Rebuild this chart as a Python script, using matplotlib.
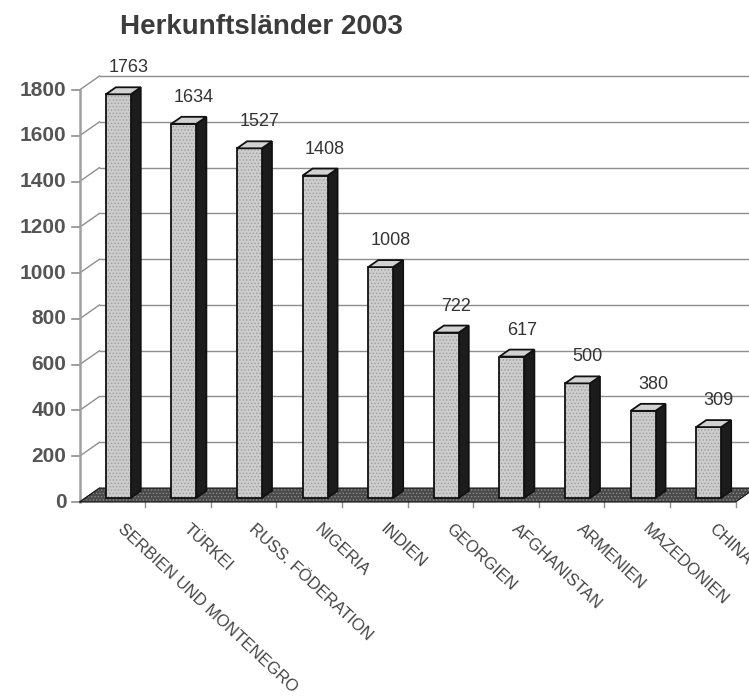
import matplotlib
matplotlib.use('Agg')
import matplotlib.pyplot as plt
from matplotlib.patches import Polygon

# Asylum applications by country of origin, 2003
countries = ['SERBIEN UND MONTENEGRO', 'TÜRKEI', 'RUSS. FÖDERATION', 'NIGERIA',
             'INDIEN', 'GEORGIEN', 'AFGHANISTAN', 'ARMENIEN', 'MAZEDONIEN', 'CHINA']
counts = [1763, 1634, 1527, 1408, 1008, 722, 617, 500, 380, 309]
yticks = [0, 200, 400, 600, 800, 1000, 1200, 1400, 1600, 1800]
title = 'Herkunftsländer 2003'

plt.rcParams['font.family'] = ['Liberation Sans', 'DejaVu Sans']
plt.rcParams['hatch.linewidth'] = 0.6

# fake 3d: depth shift of the back wall, in category / value units
DX, DY = 0.305, 61.0
D0, D1 = 0.3, 0.8          # front and back depth of the bars
BAR_X, BAR_W = 0.31, 0.38
GRID = '#8e8e8e'


def proj(x, v, d):
    return (x + d * DX, v + d * DY)


def face(ax, pts, fc, tex=None, z=3, lw=1.3):
    if tex is not None:
        ax.add_patch(Polygon(pts, closed=True, facecolor=fc, edgecolor=tex,
                             lw=0, hatch='.....', zorder=z, clip_on=False))
        fc = 'none'
    ax.add_patch(Polygon(pts, closed=True, facecolor=fc, edgecolor='#111111',
                         lw=lw, zorder=z + 0.1, clip_on=False))


fig = plt.figure(figsize=(7.49, 6.99), dpi=100)
ax = fig.add_axes([79.5 / 749, (699 - 502) / 699, 656 / 749, 412 / 699])
n = len(countries)
ax.set_xlim(0, n)
ax.set_ylim(0, yticks[-1])
ax.axis('off')

# back wall grid and side wall diagonals
for v in yticks:
    x0, y0 = proj(0, v, 1)
    x1, y1 = proj(n, v, 1)
    if v > 0:
        ax.plot([x0, x1 + 0.3], [y0, y1], color=GRID, lw=1.0, zorder=1, clip_on=False)
    ax.plot([0, x0], [v, y0], color=GRID, lw=1.0, zorder=1, clip_on=False)
    ax.plot([-0.11, 0], [v, v], color=GRID, lw=1.2, zorder=1, clip_on=False)
    ax.text(-0.2, v, str(v), ha='right', va='center', fontsize=15,
            fontweight='bold', color='#555555')

# front axis line
ax.plot([0, 0], [0, yticks[-1]], color='#a0a0a0', lw=1.8, zorder=1, clip_on=False)

# floor
floor = [proj(0, 0, 0), proj(n, 0, 0), proj(n, 0, 1), proj(0, 0, 1)]
face(ax, floor, '#4a4a4a', tex='#8c8c8c', z=2, lw=0.8)
for i in range(1, n + 1):
    ax.plot([i, i], [0, -24], color=GRID, lw=1.0, zorder=1, clip_on=False)

# bars
for i, v in enumerate(counts):
    xl = i + BAR_X
    xr = xl + BAR_W
    front = [proj(xl, 0, D0), proj(xr, 0, D0), proj(xr, v, D0), proj(xl, v, D0)]
    side = [proj(xr, 0, D0), proj(xr, 0, D1), proj(xr, v, D1), proj(xr, v, D0)]
    top = [proj(xl, v, D0), proj(xr, v, D0), proj(xr, v, D1), proj(xl, v, D1)]
    face(ax, side, '#1c1c1c', z=3)
    face(ax, front, '#cdcdcd', tex='#9e9e9e', z=4)
    face(ax, top, '#d2d2d2', z=5)
    lx, ly = proj(xl + BAR_W / 2, v, D1)
    ax.text(lx, ly + 48, str(v), ha='center', va='bottom', fontsize=13,
            color='#333333', zorder=6)

# category labels
for i, name in enumerate(countries):
    ax.text(i + 0.70, -84, name, rotation=-43, rotation_mode='anchor',
            ha='left', va='top', fontsize=12, color='#444444')

fig.text(120 / 749, 1 - 27 / 699, title, ha='left', va='center', fontsize=20,
         fontweight='bold', color='#3c3c3c')

fig.savefig('out.png', dpi=100)
